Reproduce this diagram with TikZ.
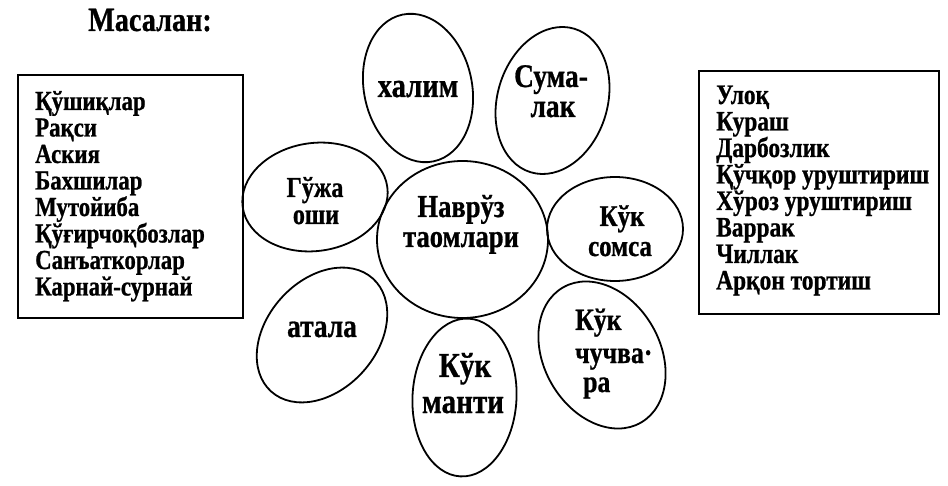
\documentclass[tikz,border=0pt]{standalone}
\usepackage{fontspec}
\setmainfont{Liberation Serif}[BoldFont={Liberation Serif Bold}, FakeStretch=0.83, BoldFeatures={FakeBold=0.8}]
\begin{document}
\begin{tikzpicture}[x=1pt,y=-1pt,
  ell/.style={draw, line width=1.8pt},
  box/.style={draw, line width=1.8pt},
  lbl/.style={font=\bfseries\fontsize{#1}{#1}\selectfont, inner sep=0pt, anchor=base},
  lbl/.default=29,
  item/.style={font=\bfseries\fontsize{#1}{#1}\selectfont, inner sep=0pt, anchor=base west},
  item/.default=27.5,
  title/.style={font=\bfseries\fontsize{34}{34}\selectfont, inner sep=0pt, anchor=base west}]
\useasboundingbox (0,0) rectangle (948,486);

\node[title] (title) at (88,31) {Масалан:};

% list boxes
\draw[box] (18,75) rectangle (243,318);
\draw[box] (699,71) rectangle (939,314);

\foreach \t [count=\i] in {Қўшиқлар,Рақси,Аския,Бахшилар,Мутойиба,Қўғирчоқбозлар,Санъаткорлар,Карнай-сурнай}
  \node[item] (l\i) at (35,{110+(\i-1)*26.5}) {\t};
\foreach \t [count=\i] in {Улоқ,Кураш,Дарбозлик,Қўчқор уруштириш,Хўроз уруштириш,Варрак,Чиллак,Арқон тортиш}
  \node[item=28.2] (r\i) at (716,{104+(\i-1)*26.5}) {\t};

% ellipses
\draw[ell] (418,88) ellipse [x radius=54, y radius=75, rotate=12];
\draw[ell] (552.5,100.5) ellipse [x radius=55, y radius=75, rotate=-17];
\draw[ell] (315,197) ellipse [x radius=73, y radius=54, rotate=8];
\draw[ell] (462.5,239.5) ellipse [x radius=85.5, y radius=78.5];
\draw[ell] (615,229) ellipse [x radius=68, y radius=52];
\draw[ell] (602,355) ellipse [x radius=58, y radius=78, rotate=30];
\draw[ell] (464.5,397.5) ellipse [x radius=52, y radius=79, rotate=-3];
\draw[ell] (322,335) ellipse [x radius=55, y radius=76, rotate=-42];

% ellipse texts
\node[lbl=34.5] (halim) at (418,97) {халим};
\node[lbl=33] (suma1) at (551,87) {Сума-};
\node[lbl=33] (suma2) at (553,117) {лак};
\node[lbl] (guzha1) at (315,197) {Гўжа};
\node[lbl] (guzha2) at (316,224) {оши};
\node[lbl=32] (navruz1) at (461,217) {Наврўз};
\node[lbl=32] (navruz2) at (461,247) {таомлари};
\node[lbl=30] (somsa1) at (622,226) {Кўк};
\node[lbl=30] (somsa2) at (620,256) {сомса};
\node[lbl=31, anchor=base west] (chuch1) at (575,330) {Кўк};
\node[lbl=31, anchor=base west] (chuch2) at (575,363) {чучва·};
\node[lbl=31, anchor=base west] (chuch3) at (583,392) {ра};
\node[lbl=35] (manti1) at (465,377) {Кўк};
\node[lbl=35] (manti2) at (463,413) {манти};
\node[lbl=33] (atala) at (322,337) {атала};
\end{tikzpicture}
\end{document}
